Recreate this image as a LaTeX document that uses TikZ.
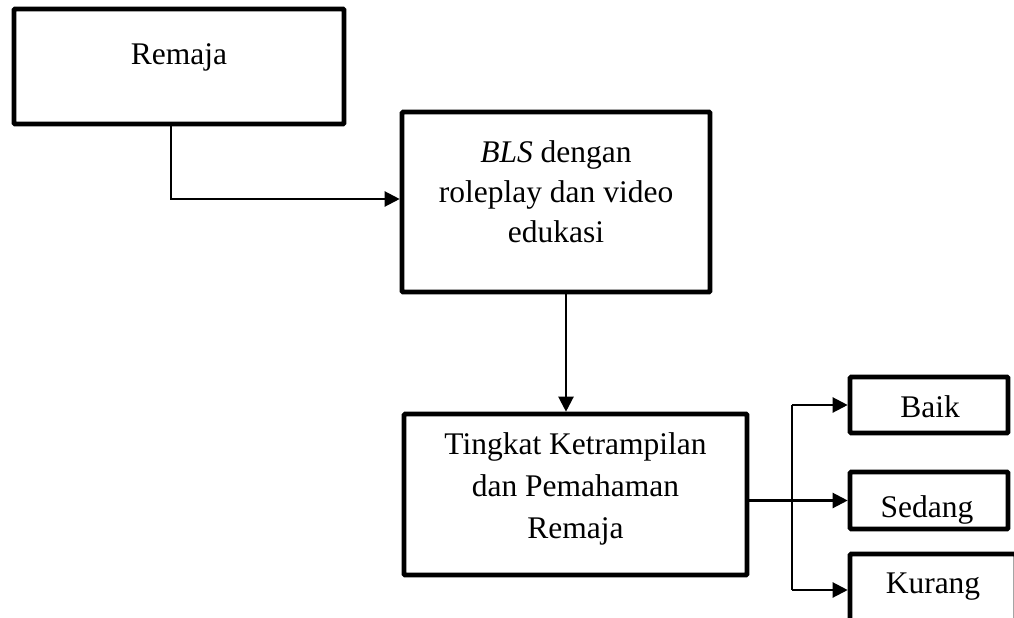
\documentclass[tikz,border=0pt]{standalone}
\usepackage{fontspec}
\setmainfont{Liberation Serif}
\usetikzlibrary{arrows.meta}
\begin{document}
\begin{tikzpicture}[x=1pt,y=-1pt,
  box/.style={draw, line width=4.6pt, inner sep=0pt, rounded corners=1pt},
  lbl/.style={font=\fontsize{31.5}{40}\selectfont, align=center, inner sep=0pt},
  lblb/.style={font=\fontsize{31.5}{42}\selectfont, align=center, inner sep=0pt},
  conn/.style={line width=2.2pt},
  arr/.style={conn, -{Triangle[length=15pt,width=15pt]}}]
\useasboundingbox (0,0) rectangle (1014,618);
\clip (0,0) rectangle (1014,618);
\fill[white] (0,0) rectangle (1014,618);
% boxes
\node[box, minimum width=330pt, minimum height=115pt] (remaja) at (179,66.5) {};
\node[box, minimum width=308pt, minimum height=180pt] (bls) at (556,202) {};
\node[box, minimum width=343pt, minimum height=161pt] (tingkat) at (575.5,494.5) {};
\node[box, minimum width=158pt, minimum height=56pt] (baik) at (929,405) {};
\node[box, minimum width=158pt, minimum height=57pt] (sedang) at (929,500.5) {};
\node[box, minimum width=166pt, minimum height=72pt] (kurang) at (933,590) {};
% texts
\node[lbl, anchor=base] (remajaT) at (179,65) {Remaja};
\node[lbl] (blsT) at (556,191.8) {\textit{BLS} dengan\\roleplay dan video\\edukasi};
\node[lblb] (tingkatT) at (575.5,488.8) {Tingkat Ketrampilan\\dan Pemahaman\\Remaja};
\node[lbl, anchor=base] (baikT) at (930,417) {Baik};
\node[lbl, anchor=base] (sedangT) at (927,517) {Sedang};
\node[lbl, anchor=base] (kurangT) at (933,593) {Kurang};
% connectors
\draw[arr] ([xshift=-8pt]remaja.south) |- ([yshift=3pt]bls.west);
\draw[arr] ([xshift=10pt]bls.south) -- ([xshift=10pt]bls.south |- tingkat.north);
\coordinate (split) at (792,500);
\draw[arr] (sedang.west -| tingkat.east) -- (sedang.west);
\draw[conn] (split |- baik.west) -- (split |- kurang.west);
\draw[arr] (split |- baik.west) -- (baik.west);
\draw[arr] (split |- kurang.west) -- (kurang.west);
\end{tikzpicture}
\end{document}
